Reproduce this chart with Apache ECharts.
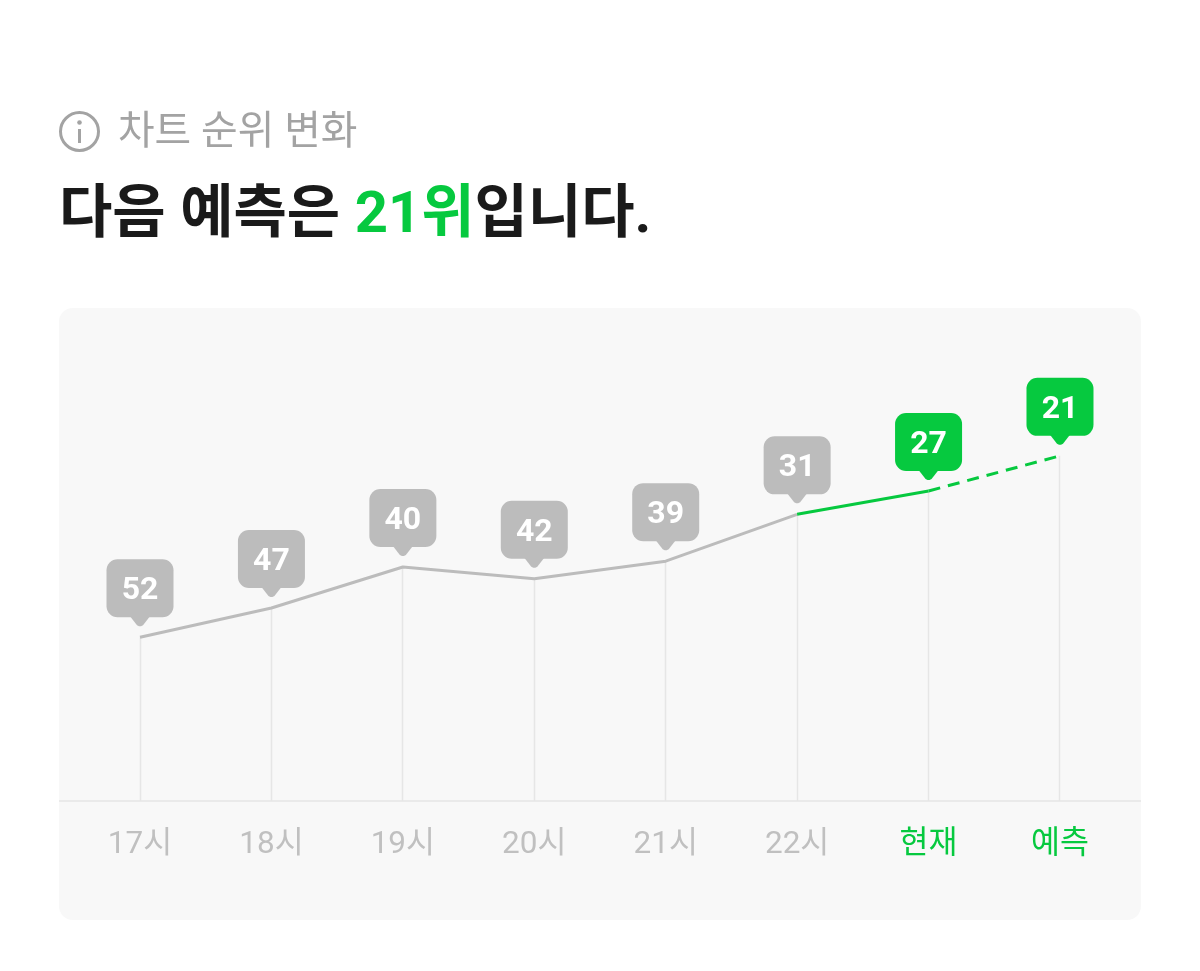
<!DOCTYPE html>
<html><head><meta charset="utf-8">
<style>html,body{margin:0;padding:0;background:#fff}#c{width:1200px;height:971px}</style>
<script src="https://cdn.jsdelivr.net/npm/echarts@6/dist/echarts.min.js"></script>
</head><body><div id="c"></div>
<script>
const hours = ['17시','18시','19시','20시','21시','22시','현재','예측'];
const ranks = [52,47,40,42,39,31,27,21];
const pastLine = [52,47,40,42,39,31,null,null];
const currentLine = [null,null,null,null,null,31,27,null];
const forecastLine = [null,null,null,null,null,null,27,21];
const highlighted = [false,false,false,false,false,false,true,true];

const GREEN = '#06c93f', GRAY = '#bcbcbc';
const FONT = 'Roboto, "Noto Sans CJK KR", sans-serif';
const chart = echarts.init(document.getElementById('c'), null, {renderer:'canvas'});

function lineSeries(name, data, color, type){
  return {name, type:'line', data, symbol:'none', silent:true, z:3, connectNulls:false,
    lineStyle:{color, width:3, type, cap:'butt'}};
}

chart.setOption({
  animation:false,
  backgroundColor:'#ffffff',
  title:[
    {text:'차트 순위 변화', left:113, top:109,
     textStyle:{fontFamily:FONT, fontSize:39.8, fontWeight:400, color:'#a3a3a3'}},
    {text:'{a|다음 예측은 }{b|21위}{a|입니다.}', left:54, top:183,
     textStyle:{rich:{
       a:{fontFamily:FONT, fontSize:58, fontWeight:700, color:'#1a1a1a'},
       b:{fontFamily:FONT, fontSize:58, fontWeight:700, color:GREEN}
     }}}
  ],
  graphic:[
    {type:'rect', z:-10, shape:{x:59,y:308,width:1082,height:612,r:14}, style:{fill:'#f8f8f8'}},
    {type:'line', z:1, shape:{x1:59,y1:801,x2:1141,y2:801}, style:{stroke:'#e6e6e6',lineWidth:1.5}},
    {type:'circle', shape:{cx:79.5,cy:131.5,r:19}, style:{fill:'none',stroke:'#a3a3a3',lineWidth:3}},
    {type:'circle', shape:{cx:79.5,cy:122.5,r:2.3}, style:{fill:'#a3a3a3'}},
    {type:'line', shape:{x1:79.5,y1:129,x2:79.5,y2:143}, style:{stroke:'#a3a3a3',lineWidth:3}}
  ],
  grid:{left:74.3, right:74.3, top:333, bottom:170, containLabel:false},
  xAxis:{type:'category', data:hours, boundaryGap:true,
    axisLine:{show:false}, axisTick:{show:false},
    axisLabel:{margin:28, fontFamily:FONT, fontSize:31.5, interval:0,
      color:(v,i)=>highlighted[i]?GREEN:'#c0c0c0'}},
  yAxis:{type:'value', inverse:true, min:0, max:80, show:false, splitLine:{show:false}},
  series:[
    {type:'custom', name:'drop', silent:true, z:1, data:ranks,
     encode:{x:0,y:1},
     renderItem(params, api){
       const i = api.value(0);
       const p = api.coord([i, api.value(1)]);
       const b = api.coord([i, 80]);
       return {type:'line', shape:{x1:Math.floor(p[0])+.5,y1:p[1],x2:Math.floor(p[0])+.5,y2:b[1]},
         style:{stroke:'#e6e6e6',lineWidth:1.5}};
     }},
    lineSeries('past', pastLine, GRAY, 'solid'),
    lineSeries('current', currentLine, GREEN, 'solid'),
    lineSeries('forecast', forecastLine, GREEN, [12,8]),
    {type:'custom', name:'rank', silent:true, z:5, data:ranks,
     encode:{x:0,y:1},
     renderItem(params, api){
       const i = api.value(0), v = api.value(1);
       const p = api.coord([i, v]);
       const color = highlighted[i] ? GREEN : GRAY;
       const w = 67, h = 58, gap = 20, tip = 10;
       const top = p[1]-gap-h, left = p[0]-w/2;
       return {type:'group', children:[
         {type:'rect', shape:{x:left,y:top,width:w,height:h,r:11}, style:{fill:color}},
         {type:'polygon', shape:{points:[[p[0]-10,top+h-1],[p[0]+10,top+h-1],[p[0]+3,top+h+tip-2],[p[0]+1,top+h+tip-1],[p[0]-1,top+h+tip-1],[p[0]-3,top+h+tip-2]]}, style:{fill:color}},
         {type:'text', style:{x:p[0],y:top+h/2+3,text:String(v),align:'center',verticalAlign:'middle',
           fontFamily:FONT,fontSize:32,fontWeight:700,fill:'#ffffff'}}
       ]};
     }}
  ]
});
</script></body></html>
